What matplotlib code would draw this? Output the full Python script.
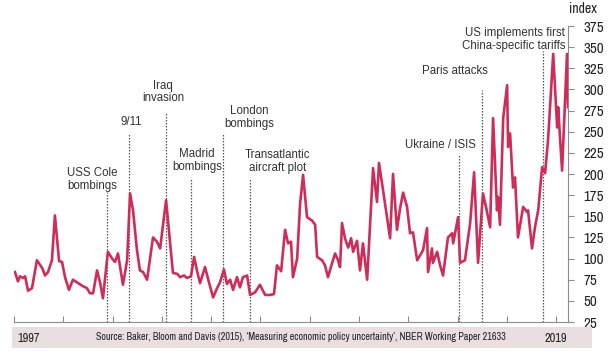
import matplotlib
matplotlib.use("Agg")
import matplotlib.pyplot as plt
from matplotlib.patches import Rectangle
from matplotlib import font_manager as fm

# ---- data (decimal years, index values) ----
years = [1997.04, 1997.16, 1997.24, 1997.37, 1997.45, 1997.57, 1997.73, 1997.93,
         1998.14, 1998.26, 1998.38, 1998.54, 1998.66, 1998.83, 1998.95, 1999.07,
         1999.23, 1999.39, 1999.60, 1999.76, 1999.96, 2000.08, 2000.21, 2000.37,
         2000.49, 2000.61, 2000.81, 2000.98, 2001.10, 2001.22, 2001.42, 2001.59,
         2001.71, 2001.83, 2001.99, 2002.11, 2002.24, 2002.40, 2002.64, 2002.80,
         2002.93, 2003.17, 2003.33, 2003.45, 2003.62, 2003.74, 2003.90, 2004.02,
         2004.18, 2004.31, 2004.43, 2004.55, 2004.75, 2004.91, 2005.08, 2005.24,
         2005.36, 2005.52, 2005.64, 2005.77, 2005.89, 2006.05, 2006.17, 2006.29,
         2006.46, 2006.58, 2006.78, 2006.98, 2007.19, 2007.39, 2007.55, 2007.67,
         2007.84, 2008.00, 2008.12, 2008.24, 2008.32, 2008.49, 2008.61, 2008.73,
         2008.89, 2009.09, 2009.22, 2009.30, 2009.50, 2009.62, 2009.74, 2009.91,
         2010.03, 2010.15, 2010.23, 2010.31, 2010.43, 2010.56, 2010.68, 2010.76,
         2010.92, 2011.04, 2011.16, 2011.33, 2011.45, 2011.57, 2011.73, 2011.81,
         2011.98, 2012.14, 2012.26, 2012.38, 2012.54, 2012.67, 2012.79, 2012.95,
         2013.07, 2013.19, 2013.36, 2013.48, 2013.60, 2013.76, 2013.80, 2013.96,
         2014.00, 2014.17, 2014.29, 2014.41, 2014.61, 2014.78, 2014.82, 2015.02,
         2015.10, 2015.30, 2015.51, 2015.67, 2015.83, 2016.03, 2016.16, 2016.32,
         2016.44, 2016.60, 2016.64, 2016.72, 2016.85, 2017.01, 2017.05, 2017.13,
         2017.25, 2017.33, 2017.45, 2017.66, 2017.82, 2017.86, 2018.02, 2018.14,
         2018.27, 2018.43, 2018.55, 2018.67, 2018.88, 2019.04, 2019.08, 2019.24,
         2019.44, 2019.48]
values = [84, 73, 79, 77, 79, 62, 65, 98,
          89, 80, 84, 98, 151, 97, 96, 78,
          63, 75, 71, 68, 65, 59, 59, 86,
          72, 53, 108, 100, 96, 106, 69, 98,
          177, 157, 110, 86, 84, 75, 125, 120,
          112, 169, 120, 83, 82, 78, 80, 77,
          79, 102, 85, 71, 90, 72, 54, 65,
          72, 87, 70, 75, 63, 78, 66, 78,
          80, 57, 60, 69, 57, 57, 58, 92,
          85, 134, 118, 120, 78, 100, 165, 199,
          149, 145, 140, 102, 98, 92, 78, 95,
          106, 98, 90, 142, 124, 113, 124, 108,
          121, 86, 118, 75, 140, 207, 167, 213,
          180, 148, 124, 200, 134, 160, 178, 161,
          130, 131, 98, 104, 110, 136, 84, 112,
          95, 108, 92, 80, 125, 130, 118, 149,
          95, 98, 142, 202, 95, 177, 160, 137,
          266, 157, 173, 140, 266, 305, 232, 248,
          184, 196, 125, 161, 155, 157, 112, 137,
          157, 208, 201, 240, 342, 255, 279, 204,
          342, 279]

event_labels = ["USS Cole\nbombings", "9/11", "Iraq\ninvasion", "Madrid\nbombings",
                "London\nbombings", "Transatlantic\naircraft plot", "Ukraine / ISIS",
                "Paris attacks", "US implements first\nChina-specific tariffs"]
event_years = [2000.77, 2001.67, 2003.17, 2004.18, 2005.48, 2006.58, 2015.06, 2015.99, 2018.47]

yticks = list(range(25, 376, 25))
xticks = list(range(1997, 2020, 2))
source_text = ("Source: Baker, Bloom and Davis (2015), \u2018Measuring economic policy "
               "uncertainty\u2019, NBER Working Paper 21633")

# ---- fonts: prefer a condensed face ----
cond_file = None
for f in fm.fontManager.ttflist:
    nm = (f.name + " " + f.fname).lower()
    if ("condensed" in nm or "narrow" in nm) and f.style == "normal" \
            and str(f.weight) in ("400", "normal", "regular") and "dejavu" not in nm:
        cond_file = f.fname
        break
if cond_file is None:
    for f in fm.fontManager.ttflist:
        nm = (f.name + " " + f.fname).lower()
        if "condensed" in nm and f.style == "normal" and "bold" not in nm:
            cond_file = f.fname
            break

def nfp(size):
    if cond_file is not None:
        p = fm.FontProperties(fname=cond_file)
    else:
        p = fm.FontProperties(family=["Roboto", "DejaVu Sans"])
    p.set_size(size)
    return p

label_font = ["Liberation Sans", "DejaVu Sans"]

# ---- styling ----
line_color = "#cf2d59"
grey = "#8c8c8c"

fig = plt.figure(figsize=(6.11, 3.54), dpi=100)
renderer = fig.canvas.get_renderer()

def fitted_size(text, target_px, base=10):
    t = fig.text(0, 0, text, fontproperties=nfp(base))
    w = t.get_window_extent(renderer).width
    t.remove()
    return base * target_px / w

tick_size = fitted_size("375", 20.5)
year_size = fitted_size("1997", 22.5)
src_size = fitted_size(source_text, 412)
idx_size = fitted_size("index", 28)

ax = fig.add_axes([14/611, 32/354, 554/611, 296/354])

ax.plot(years, values, color=line_color, lw=1.9, solid_joinstyle="round", zorder=3)

# event lines
event_tops = [179, 248, 273, 195, 248, 195, 222, 299, 346]
for ex, top in zip(event_years, event_tops):
    ax.plot([ex, ex], [25, top], color="#555555", lw=0.9, ls=(0, (1.2, 1.2)), zorder=2)

label_pos = [(2000.17, 193, "center"), (2001.75, 262, "center"), (2003.05, 297, "center"),
             (2004.43, 216, "center"), (2006.54, 267, "center"), (2007.71, 215, "center"),
             (2015.75, 234, "right"), (2014.9, 322, "center"), (2019.36, 359, "right")]
for lab, (lx, ly, ha) in zip(event_labels, label_pos):
    ax.text(lx, ly, lab, ha=ha, va="center", fontsize=8.3, family=label_font,
            color="#333333", linespacing=1.1, zorder=4)

ax.set_xlim(1997, 2019.48)
ax.set_ylim(25, 375)

ax.yaxis.tick_right()
ax.set_yticks(yticks)
ax.set_yticklabels([str(t) for t in yticks], fontproperties=nfp(tick_size), color="#222222")
ax.tick_params(axis="y", direction="out", length=4, width=0.8, color=grey, pad=7)
ax.set_xticks(xticks)
ax.set_xticklabels([])
ax.tick_params(axis="x", direction="in", length=4, width=0.8, color=grey)

for s in ["top", "left"]:
    ax.spines[s].set_visible(False)
for s in ["right", "bottom"]:
    ax.spines[s].set_color(grey)
    ax.spines[s].set_linewidth(0.8)

fig.text(583/611, 1 - 9/354, "index", ha="center", va="center",
         fontproperties=nfp(idx_size), color="#222222")

# footer band
fig.patches.append(Rectangle((12/611, 1 - 348/354), 580/611, 21/354,
                             transform=fig.transFigure, facecolor="#e9dfdf",
                             edgecolor="none", zorder=0))
fig.text(17/611, 1 - 338/354, "1997", ha="left", va="center",
         fontproperties=nfp(year_size), color="#222222")
fig.text(567/611, 1 - 338/354, "2019", ha="right", va="center",
         fontproperties=nfp(year_size), color="#222222")
fig.text(301/611, 1 - 337/354, source_text,
         ha="center", va="center", fontproperties=nfp(src_size), color="#222222")

fig.savefig("out.png", dpi=100)
